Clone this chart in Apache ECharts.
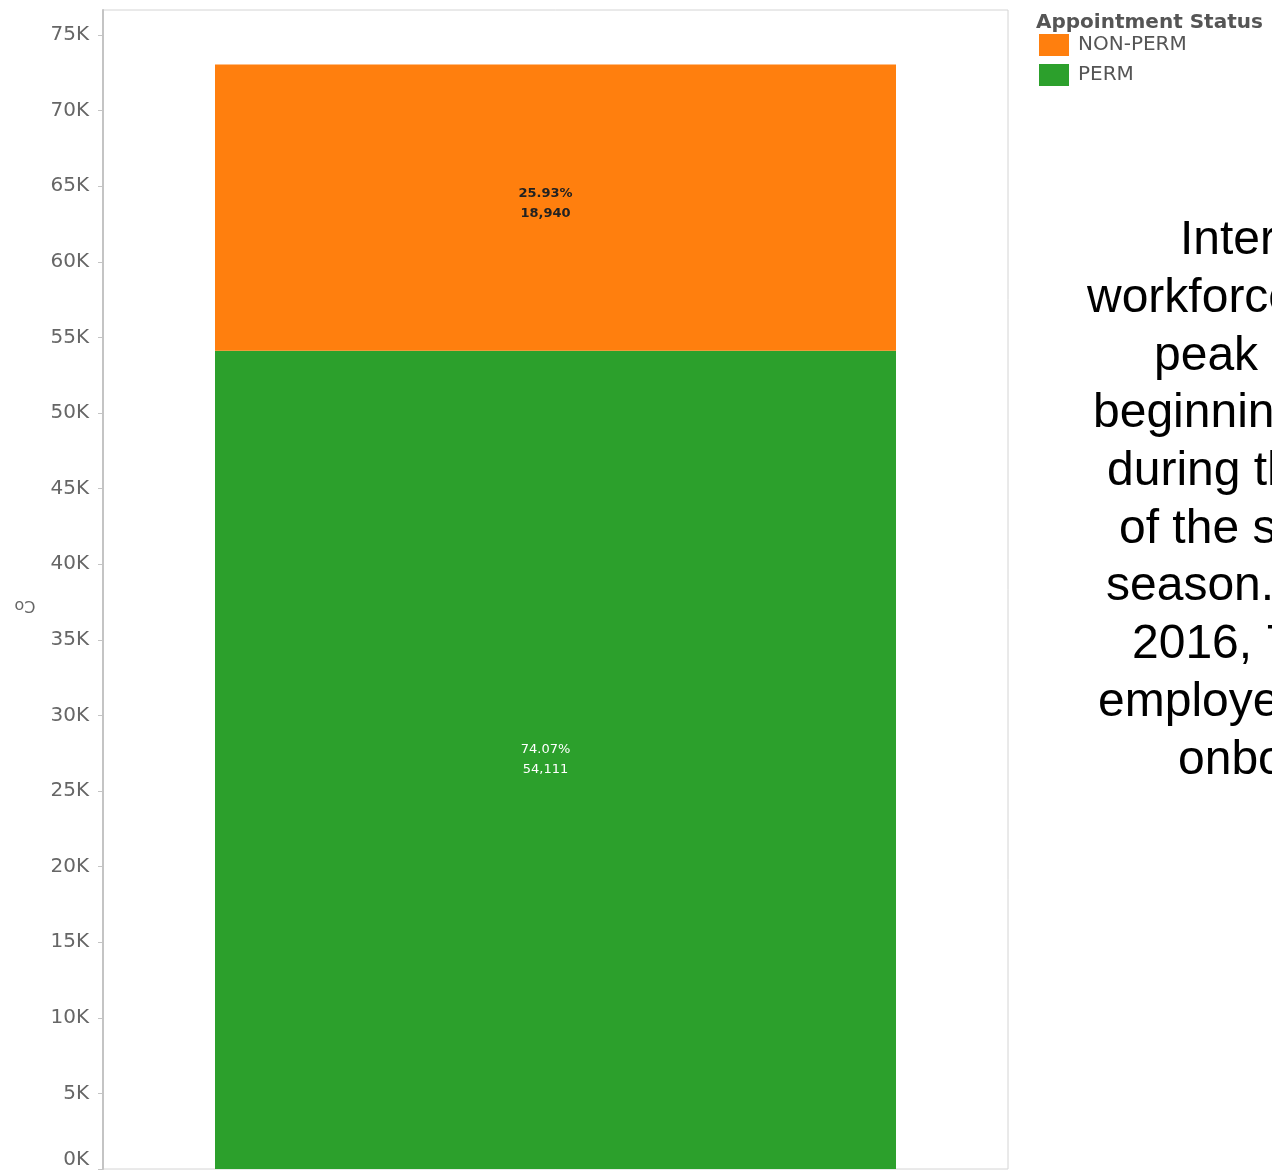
<!DOCTYPE html>
<html>
<head>
<meta charset="utf-8">
<title>Appointment Status</title>
<script src="https://cdn.jsdelivr.net/npm/echarts@6/dist/echarts.min.js"></script>
<style>
  html, body { margin: 0; padding: 0; background: #fff; }
  #chart { width: 1272px; height: 1171px; }
</style>
</head>
<body>
<div id="chart"></div>
<script>
// data
const categories = ['All'];
const permValues = [54111];
const nonPermValues = [18940];
const legendNames = ['NON-PERM', 'PERM'];

// side note, cut off at the right edge in the original
const noteLines = [
  'Interior\'s', 'workforce reaches', 'peak levels', 'beginning in May',
  'during the height', 'of the summer', 'season. In', '2016, 7,000',
  'employees were', 'onboarded.'
];
const noteX = [1180, 1087, 1154, 1093, 1107, 1119, 1106, 1132, 1098, 1178];

const colors = { perm: '#2ca02c', nonPerm: '#ff7f0e' };

const totals = categories.map((c, i) => permValues[i] + nonPermValues[i]);

function fmtLabel(params) {
  const total = totals[params.dataIndex];
  const pct = (params.value / total * 100).toFixed(2) + '%';
  return pct + '\n' + params.value.toLocaleString('en-US');
}

const chart = echarts.init(document.getElementById('chart'));

const noteGraphics = noteLines.map((line, i) => ({
  type: 'text',
  left: noteX[i],
  top: 241 + i * 57.7 - 24,
  style: {
    text: line,
    font: '48px "Liberation Sans", Arial, sans-serif',
    fill: '#000'
  }
}));

chart.setOption({
  animation: false,
  grid: {
    left: 103, right: 264, top: 10, bottom: 2,
    show: true, borderColor: '#d4d4d4', borderWidth: 1
  },
  legend: {
    data: legendNames,
    orient: 'vertical',
    left: 1034,
    top: 29,
    itemWidth: 30,
    itemHeight: 22,
    itemGap: 8,
    icon: 'rect',
    selectedMode: false,
    textStyle: { fontSize: 20, color: '#555', fontFamily: 'DejaVu Sans', padding: [0, 0, 4, 4] }
  },
  xAxis: {
    type: 'category',
    data: categories,
    axisLine: { show: false },
    axisTick: { show: false },
    axisLabel: { show: false }
  },
  yAxis: {
    type: 'value',
    min: 0,
    max: 76650,
    interval: 5000,
    axisLine: { show: true, lineStyle: { color: '#c4c4c4', width: 2 } },
    axisTick: { show: true, length: 5, lineStyle: { color: '#c4c4c4' } },
    splitLine: { show: false },
    axisLabel: {
      showMaxLabel: false,
      margin: 14,
      fontSize: 20,
      color: '#666',
      fontFamily: 'DejaVu Sans',
      formatter: v => v === 0 ? '{z|0K}' : (v / 1000) + 'K',
      rich: { z: { fontSize: 20, color: '#666', fontFamily: 'DejaVu Sans', padding: [0, 0, 18, 0] } }
    }
  },
  series: [
    {
      name: 'PERM',
      type: 'bar',
      stack: 'total',
      data: permValues,
      barWidth: 681,
      itemStyle: { color: colors.perm },
      label: {
        show: true,
        position: 'inside',
        offset: [-10, 0],
        formatter: fmtLabel,
        color: '#fff',
        fontSize: 13,
        lineHeight: 20,
        fontFamily: 'DejaVu Sans'
      }
    },
    {
      name: 'NON-PERM',
      type: 'bar',
      stack: 'total',
      data: nonPermValues,
      barWidth: 681,
      itemStyle: { color: colors.nonPerm },
      label: {
        show: true,
        position: 'inside',
        offset: [-10, -4],
        formatter: fmtLabel,
        color: '#222',
        fontSize: 13,
        fontWeight: 'bold',
        lineHeight: 20,
        fontFamily: 'DejaVu Sans'
      }
    }
  ],
  graphic: [
    {
      type: 'text',
      left: 1036,
      top: 13,
      style: {
        text: 'Appointment Status',
        font: 'bold 20px "DejaVu Sans", sans-serif',
        fill: '#555'
      }
    },
    {
      type: 'text',
      x: 25,
      y: 605,
      rotation: Math.PI,
      style: {
        text: 'Co',
        font: '16px "DejaVu Sans", sans-serif',
        fill: '#666',
        align: 'center',
        verticalAlign: 'middle'
      }
    }
  ].concat(noteGraphics)
});
</script>
</body>
</html>
